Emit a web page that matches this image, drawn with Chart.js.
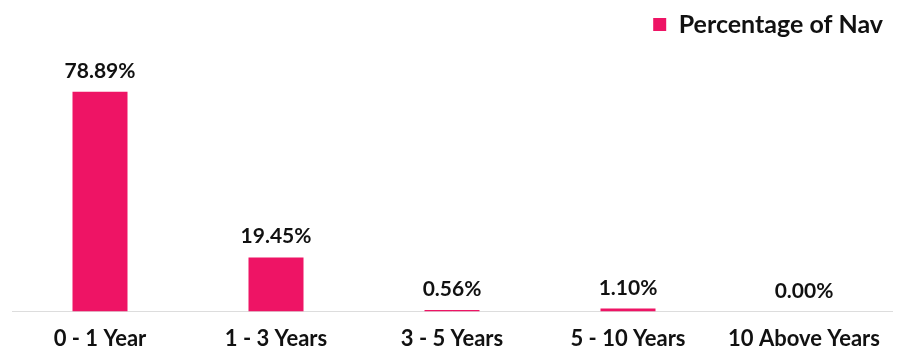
<!DOCTYPE html>
<html>
<head>
<meta charset="utf-8">
<script src="https://cdn.jsdelivr.net/npm/chart.js@4"></script>
<style>
html,body{margin:0;padding:0;background:#fff;}
#wrap{width:909px;height:361px;}
</style>
</head>
<body>
<div id="wrap"><canvas id="c" width="909" height="361"></canvas></div>
<script>
const categories = ["0 - 1 Year", "1 - 3 Years", "3 - 5 Years", "5 - 10 Years", "10 Above Years"];
const navValues = [78.89, 19.45, 0.56, 1.10, 0.00];
const valueLabels = ["78.89%", "19.45%", "0.56%", "1.10%", "0.00%"];
const seriesName = "Percentage of Nav";
const yAxisMax = 95;

const labelPlugin = {
  id: 'valueLabels',
  afterDatasetsDraw(chart) {
    const ctx = chart.ctx;
    const meta = chart.getDatasetMeta(0);
    ctx.save();
    ctx.font = 'bold 21px Lato';
    ctx.fillStyle = '#111';
    ctx.textAlign = 'center';
    ctx.textBaseline = 'alphabetic';
    meta.data.forEach((bar, i) => {
      ctx.fillText(valueLabels[i], bar.x, bar.y - 14);
    });
    ctx.restore();
  }
};

new Chart(document.getElementById('c'), {
  type: 'bar',
  data: {
    labels: categories,
    datasets: [{
      label: seriesName,
      data: navValues,
      backgroundColor: '#EE1465',
      borderWidth: 0,
      barPercentage: 0.3125,
      categoryPercentage: 1.0,
      minBarLength: 0
    }]
  },
  options: {
    responsive: false,
    animation: false,
    layout: { padding: { left: 12, right: 17, top: 3, bottom: -5 } },
    plugins: {
      legend: {
        position: 'top',
        align: 'end',
        labels: {
          boxWidth: 13,
          boxHeight: 13,
          color: '#111',
          font: { family: 'Lato', size: 25, weight: 'bold' },
          padding: 9
        }
      },
      tooltip: { enabled: false }
    },
    scales: {
      x: {
        grid: { display: false, drawTicks: false },
        border: { display: true, color: '#dddddd', width: 1 },
        ticks: {
          color: '#111',
          font: { family: 'Lato', size: 22, weight: 'bold' },
          padding: 14,
          maxRotation: 0,
          autoSkip: false
        }
      },
      y: {
        display: false,
        min: 0,
        max: yAxisMax
      }
    }
  },
  plugins: [labelPlugin]
});
</script>
</body>
</html>
